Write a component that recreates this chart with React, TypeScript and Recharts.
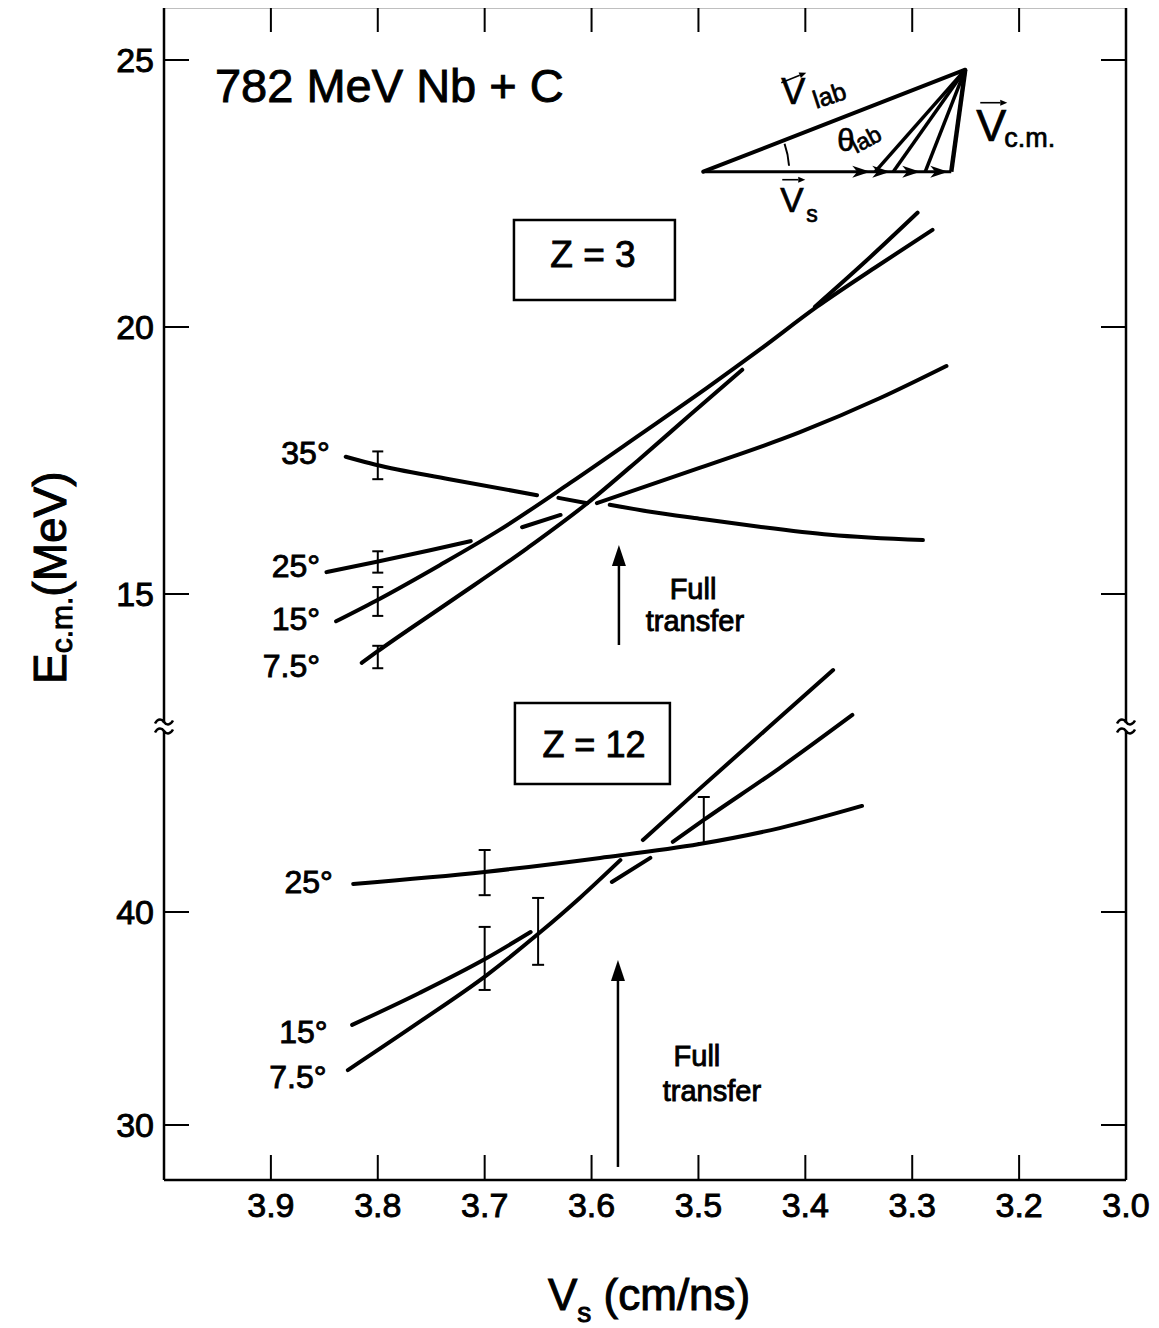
import React from 'react';
import {
  ComposedChart,
  Line,
  Scatter,
  XAxis,
  YAxis,
  ErrorBar,
  ReferenceArea,
  ReferenceDot,
  ReferenceLine,
} from 'recharts';

// ---------------- axis ticks ----------------
const xTickValues = [3.9, 3.8, 3.7, 3.6, 3.5, 3.4, 3.3, 3.2, 3.1];
const xTickLabels = ['3.9', '3.8', '3.7', '3.6', '3.5', '3.4', '3.3', '3.2', '3.0'];
const z3TickValues = [15, 20, 25];
const z12TickValues = [30, 40];

// ---------------- Z = 3 curves (x: Vs cm/ns, y: E c.m. MeV) ----------------
const z3Deg35 = [
  { x: 3.83, y: 17.57 },
  { x: 3.802, y: 17.42 },
  { x: 3.733, y: 17.15 },
  { x: 3.651, y: 16.85 },
  { x: 3.641, y: null },
  { x: 3.631, y: 16.8 },
  { x: 3.604, y: 16.7 },
  { x: 3.594, y: null },
  { x: 3.583, y: 16.67 },
  { x: 3.545, y: 16.54 },
  { x: 3.499, y: 16.41 },
  { x: 3.443, y: 16.26 },
  { x: 3.377, y: 16.11 },
  { x: 3.29, y: 16.01 },
];

const z3Deg25 = [
  { x: 3.848, y: 15.41 },
  { x: 3.802, y: 15.6 },
  { x: 3.751, y: 15.82 },
  { x: 3.713, y: 15.99 },
  { x: 3.69, y: null },
  { x: 3.665, y: 16.25 },
  { x: 3.629, y: 16.48 },
  { x: 3.612, y: null },
  { x: 3.595, y: 16.7 },
  { x: 3.499, y: 17.36 },
  { x: 3.405, y: 18.03 },
  { x: 3.33, y: 18.67 },
  { x: 3.268, y: 19.27 },
];

const z3Deg15 = [
  { x: 3.839, y: 14.49 },
  { x: 3.802, y: 14.87 },
  { x: 3.742, y: 15.54 },
  { x: 3.686, y: 16.2 },
  { x: 3.62, y: 17.08 },
  { x: 3.555, y: 17.98 },
  { x: 3.492, y: 18.86 },
  { x: 3.443, y: 19.57 },
  { x: 3.389, y: 20.38 },
  { x: 3.335, y: 21.11 },
  { x: 3.281, y: 21.82 },
];

const z3Deg7p5 = [
  { x: 3.815, y: 13.71 },
  { x: 3.802, y: 13.9 },
  { x: 3.733, y: 14.85 },
  { x: 3.66, y: 15.86 },
  { x: 3.604, y: 16.7 },
  { x: 3.555, y: 17.53 },
  { x: 3.508, y: 18.35 },
  { x: 3.459, y: 19.2 },
  { x: 3.425, y: null },
  { x: 3.391, y: 20.38 },
  { x: 3.343, y: 21.24 },
  { x: 3.295, y: 22.14 },
];

const z3ErrorBars = [
  { x: 3.8, y: 17.41, err: 0.26 },
  { x: 3.8, y: 15.6, err: 0.2 },
  { x: 3.8, y: 14.86, err: 0.27 },
  { x: 3.8, y: 13.82, err: 0.21 },
];

// ---------------- Z = 12 curves ----------------
const z12Deg25 = [
  { x: 3.823, y: 41.32 },
  { x: 3.7, y: 41.88 },
  { x: 3.592, y: 42.54 },
  { x: 3.499, y: 43.19 },
  { x: 3.424, y: 43.94 },
  { x: 3.347, y: 44.98 },
];

const z12Deg15 = [
  { x: 3.824, y: 34.7 },
  { x: 3.761, y: 36.2 },
  { x: 3.698, y: 37.84 },
  { x: 3.657, y: 39.06 },
  { x: 3.62, y: null },
  { x: 3.581, y: 41.41 },
  { x: 3.545, y: 42.54 },
  { x: 3.535, y: null },
  { x: 3.524, y: 43.29 },
  { x: 3.495, y: 44.32 },
  { x: 3.424, y: 46.76 },
  { x: 3.356, y: 49.25 },
];

const z12Deg7p5 = [
  { x: 3.828, y: 32.58 },
  { x: 3.761, y: 34.84 },
  { x: 3.698, y: 37.04 },
  { x: 3.649, y: 39.01 },
  { x: 3.611, y: 40.66 },
  { x: 3.573, y: 42.44 },
  { x: 3.562, y: null },
  { x: 3.552, y: 43.38 },
  { x: 3.499, y: 45.78 },
  { x: 3.433, y: 48.73 },
  { x: 3.374, y: 51.36 },
];

const z12ErrorBars = [
  { x: 3.7, y: 41.85, err: 1.06 },
  { x: 3.7, y: 37.82, err: 1.48 },
  { x: 3.65, y: 39.09, err: 1.57 },
  { x: 3.495, y: 44.32, err: 1.08 },
];

// ---------------- annotation anchors (data units) ----------------
const z3AngleLabels = [
  { text: '35°', x: 3.845, y: 17.43 },
  { text: '25°', x: 3.854, y: 15.32 },
  { text: '15°', x: 3.854, y: 14.33 },
  { text: '7.5°', x: 3.854, y: 13.45 },
];
const z12AngleLabels = [
  { text: '25°', x: 3.842, y: 40.88 },
  { text: '15°', x: 3.847, y: 33.85 },
  { text: '7.5°', x: 3.848, y: 31.74 },
];

// ---------------- layout ----------------
const W = 1159;
const H = 1328;
// plot area: x 164..1126, y 7..1180 (each axis is 1px thick in layout)
const MARGIN = { top: 6, right: 32, bottom: 147, left: 163 };
const X_DOMAIN = [3.1, 4.0];
const Z3_DOMAIN = [4.0262, 25.9925];
const Z12_DOMAIN = [27.4178, 82.4883];
const FONT = '"Liberation Sans", Arial, Helvetica, sans-serif';
const INK = '#000';
const TICK_LEN = 25;
const LINE_W = 4;
const TXT_STROKE = 0.9;

// ---------------- tick renderers ----------------
const BottomTick = (p: any) => {
  const { x, y, payload } = p;
  const i = xTickValues.indexOf(payload.value);
  const label = i >= 0 ? xTickLabels[i] : String(payload.value);
  const edge = i === xTickValues.length - 1;
  return (
    <g>
      {!edge && <line x1={x} y1={y} x2={x} y2={y - TICK_LEN} stroke={INK} strokeWidth={2} />}
      <text x={x} y={y + 37} textAnchor="middle" fontSize={34} fontFamily={FONT} fill={INK} stroke={INK} strokeWidth={TXT_STROKE}>
        {label}
      </text>
    </g>
  );
};

const TopTick = (p: any) => {
  const { x, y, payload } = p;
  if (payload.value === xTickValues[xTickValues.length - 1]) return <g />;
  return <line x1={x} y1={y} x2={x} y2={y + TICK_LEN} stroke={INK} strokeWidth={2} />;
};

const LeftTick = (p: any) => {
  const { x, y, payload } = p;
  return (
    <g>
      <line x1={x} y1={y} x2={x + TICK_LEN} y2={y} stroke={INK} strokeWidth={2} />
      <text x={x - 10} y={y + 12} textAnchor="end" fontSize={34} fontFamily={FONT} fill={INK} stroke={INK} strokeWidth={TXT_STROKE}>
        {payload.value}
      </text>
    </g>
  );
};

const RightTick = (p: any) => {
  const { x, y } = p;
  return <line x1={x} y1={y} x2={x - TICK_LEN} y2={y} stroke={INK} strokeWidth={2} />;
};

const NoShape = () => <g />;

// ---------------- annotation shapes ----------------
const textShape =
  (text: string, size: number, anchor: string = 'start') =>
  (p: any) =>
    (
      <text
        x={p.cx}
        y={p.cy}
        textAnchor={anchor}
        fontSize={size}
        fontFamily={FONT}
        fill={INK}
        stroke={INK}
        strokeWidth={TXT_STROKE}
      >
        {text}
      </text>
    );

const arrowHeadUp = (p: any) => (
  <polygon points={`${p.cx},${p.cy} ${p.cx - 7},${p.cy + 21} ${p.cx + 7},${p.cy + 21}`} fill={INK} />
);

const breakMark = (p: any) => {
  const { cx, cy } = p;
  const tilde = (yy: number) =>
    `M ${cx - 9} ${yy + 1.5} C ${cx - 6} ${yy - 4}, ${cx - 2} ${yy - 3}, ${cx} ${yy} S ${cx + 6} ${yy + 4}, ${cx + 9} ${yy - 1.5}`;
  return (
    <g>
      <rect x={cx - 4} y={cy - 4} width={8} height={8} fill="#fff" />
      <path d={tilde(cy - 5)} stroke={INK} strokeWidth={2.5} fill="none" />
      <path d={tilde(cy + 4)} stroke={INK} strokeWidth={2.5} fill="none" />
    </g>
  );
};

const overArrow = (x1: number, y1: number, x2: number, y2: number) => {
  const ang = Math.atan2(y2 - y1, x2 - x1);
  const L = 7;
  const w = 3;
  const bx = x2 - L * Math.cos(ang);
  const by = y2 - L * Math.sin(ang);
  const nx = -Math.sin(ang) * w;
  const ny = Math.cos(ang) * w;
  return (
    <g>
      <line x1={x1} y1={y1} x2={bx} y2={by} stroke={INK} strokeWidth={1.6} />
      <polygon points={`${x2},${y2} ${bx + nx},${by + ny} ${bx - nx},${by - ny}`} fill={INK} />
    </g>
  );
};

const vectorDiagram = (p: any) => {
  const { cx, cy } = p;
  const ax = cx + 262;
  const ay = cy - 102;
  const baseEnds = [172, 190, 222, 248];
  const heads = [167, 187, 217, 245];
  const R = 86;
  const a1 = (4 * Math.PI) / 180;
  const a2 = (19 * Math.PI) / 180;
  const head = (t: number) =>
    `${cx + t},${cy} ${cx + t - 18},${cy - 6} ${cx + t - 13},${cy} ${cx + t - 18},${cy + 6}`;
  return (
    <g>
      <line x1={cx} y1={cy} x2={ax} y2={ay} stroke={INK} strokeWidth={4} strokeLinecap="round" />
      <line x1={cx} y1={cy} x2={cx + 248} y2={cy} stroke={INK} strokeWidth={3} />
      {baseEnds.map((b, i) => (
        <line key={i} x1={ax} y1={ay} x2={cx + b} y2={cy} stroke={INK} strokeWidth={i === 3 ? 4.5 : 3.5} />
      ))}
      {heads.map((h, i) => (
        <polygon key={i} points={head(h)} fill={INK} />
      ))}
      <path
        d={`M ${cx + R * Math.cos(a1)} ${cy - R * Math.sin(a1)} A ${R} ${R} 0 0 0 ${cx + R * Math.cos(a2)} ${cy - R * Math.sin(a2)}`}
        stroke={INK}
        strokeWidth={2}
        fill="none"
      />
      <g fontFamily={FONT} fill={INK} stroke={INK} strokeWidth={0.7}>
        {/* V lab */}
        <text x={cx + 78} y={cy - 68} fontSize={36}>V</text>
        <text x={cx + 113} y={cy - 63} fontSize={25} transform={`rotate(-18 ${cx + 113} ${cy - 63})`}>lab</text>
        {/* theta lab */}
        <text x={cx + 134} y={cy - 21} fontSize={31}>θ</text>
        <text x={cx + 153} y={cy - 18} fontSize={23} transform={`rotate(-28 ${cx + 153} ${cy - 18})`}>lab</text>
        {/* V c.m. */}
        <text x={cx + 273} y={cy - 31} fontSize={45}>V</text>
        <text x={cx + 301} y={cy - 25} fontSize={27}>c.m.</text>
        {/* V s */}
        <text x={cx + 77} y={cy + 40} fontSize={35}>V</text>
        <text x={cx + 103} y={cy + 50} fontSize={23}>s</text>
      </g>
      {overArrow(cx + 78, cy - 89, cx + 103, cy - 99)}
      {overArrow(cx + 277, cy - 69, cx + 304, cy - 69)}
      {overArrow(cx + 79, cy + 8, cx + 102, cy + 8)}
    </g>
  );
};

const lineProps = {
  type: 'monotone' as const,
  dataKey: 'y',
  stroke: INK,
  strokeWidth: LINE_W,
  dot: false,
  activeDot: false,
  connectNulls: false,
  isAnimationActive: false,
  strokeLinecap: 'round' as const,
};

const z3Series = [z3Deg35, z3Deg25, z3Deg15, z3Deg7p5];
const z12Series = [z12Deg25, z12Deg15, z12Deg7p5];

const frameLine = { stroke: INK, strokeWidth: 2.5 };

function UpperPanel() {
  return (
    <ComposedChart width={W} height={H} margin={MARGIN}>
      <XAxis
        type="number"
        dataKey="x"
        domain={X_DOMAIN}
        reversed
        allowDataOverflow
        ticks={xTickValues}
        interval={0}
        height={1}
        tickSize={0}
        tickMargin={0}
        tickLine={false}
        axisLine={frameLine}
        tick={BottomTick}
      />
      <XAxis
        xAxisId="top"
        orientation="top"
        type="number"
        dataKey="x"
        domain={X_DOMAIN}
        reversed
        allowDataOverflow
        ticks={xTickValues}
        interval={0}
        height={1}
        tickSize={0}
        tickMargin={0}
        tickLine={false}
        axisLine={frameLine}
        tick={TopTick}
      />
      <YAxis
        type="number"
        dataKey="y"
        domain={Z3_DOMAIN}
        allowDataOverflow
        ticks={z3TickValues}
        interval={0}
        width={1}
        tickSize={0}
        tickMargin={0}
        tickLine={false}
        axisLine={frameLine}
        tick={LeftTick}
      />
      <YAxis
        yAxisId="right"
        orientation="right"
        type="number"
        dataKey="y"
        domain={Z3_DOMAIN}
        allowDataOverflow
        ticks={z3TickValues}
        interval={0}
        width={1}
        tickSize={0}
        tickMargin={0}
        tickLine={false}
        axisLine={frameLine}
        tick={RightTick}
      />

      {z3Series.map((d, i) => (
        <Line key={`z3-${i}`} data={d} {...lineProps} />
      ))}

      <Scatter data={z3ErrorBars} dataKey="y" shape={NoShape} isAnimationActive={false}>
        <ErrorBar dataKey="err" direction="y" width={5.5} stroke={INK} strokeWidth={2} isAnimationActive={false} />
      </Scatter>

      {z3AngleLabels.map((l, i) => (
        <ReferenceDot key={`z3l-${i}`} x={l.x} y={l.y} r={0} shape={textShape(l.text, 32, 'end')} />
      ))}

      {/* title */}
      <ReferenceDot x={3.9523} y={24.219} r={0} shape={textShape('782 MeV Nb + C', 47)} />

      {/* Z = 3 box */}
      <ReferenceArea x1={3.6726} x2={3.522} y1={20.506} y2={22.004} fill="none" fillOpacity={0} stroke={INK} strokeWidth={2.5} />
      <ReferenceDot x={3.5987} y={21.129} r={0} shape={textShape('Z = 3', 37, 'middle')} />

      {/* full transfer arrow */}
      <ReferenceLine
        segment={[
          { x: 3.5744, y: 14.045 },
          { x: 3.5744, y: 15.6 },
        ]}
        stroke={INK}
        strokeWidth={2.5}
      />
      <ReferenceDot x={3.5744} y={15.918} r={0} shape={arrowHeadUp} />
      <ReferenceDot x={3.5051} y={14.91} r={0} shape={textShape('Full', 29, 'middle')} />
      <ReferenceDot x={3.5033} y={14.3} r={0} shape={textShape('transfer', 29, 'middle')} />

      {/* velocity vector diagram */}
      <ReferenceDot x={3.4955} y={22.908} r={0} shape={vectorDiagram} />

      {/* x axis title */}
      <text x={548} y={1310} fontFamily={FONT} fill={INK} stroke={INK} strokeWidth={1} fontSize={44}>
        V
        <tspan fontSize={28} dy={12}>s</tspan>
        <tspan fontSize={44} dy={-12}> (cm/ns)</tspan>
      </text>
    </ComposedChart>
  );
}

function LowerPanel() {
  return (
    <ComposedChart width={W} height={H} margin={MARGIN}>
      <XAxis
        type="number"
        dataKey="x"
        domain={X_DOMAIN}
        reversed
        allowDataOverflow
        height={1}
        tick={false}
        tickLine={false}
        axisLine={false}
      />
      <XAxis
        xAxisId="top"
        orientation="top"
        type="number"
        dataKey="x"
        domain={X_DOMAIN}
        reversed
        allowDataOverflow
        height={1}
        tick={false}
        tickLine={false}
        axisLine={false}
      />
      <YAxis
        type="number"
        dataKey="y"
        domain={Z12_DOMAIN}
        allowDataOverflow
        ticks={z12TickValues}
        interval={0}
        width={1}
        tickSize={0}
        tickMargin={0}
        tickLine={false}
        axisLine={false}
        tick={LeftTick}
      />
      <YAxis
        yAxisId="right"
        orientation="right"
        type="number"
        dataKey="y"
        domain={Z12_DOMAIN}
        allowDataOverflow
        ticks={z12TickValues}
        interval={0}
        width={1}
        tickSize={0}
        tickMargin={0}
        tickLine={false}
        axisLine={false}
        tick={RightTick}
      />

      {z12Series.map((d, i) => (
        <Line key={`z12-${i}`} data={d} {...lineProps} />
      ))}

      <Scatter data={z12ErrorBars} dataKey="y" shape={NoShape} isAnimationActive={false}>
        <ErrorBar dataKey="err" direction="y" width={6} stroke={INK} strokeWidth={2} isAnimationActive={false} />
      </Scatter>

      {z12AngleLabels.map((l, i) => (
        <ReferenceDot key={`z12l-${i}`} x={l.x} y={l.y} r={0} shape={textShape(l.text, 32, 'end')} />
      ))}

      {/* Z = 12 box */}
      <ReferenceArea x1={3.6717} x2={3.5267} y1={46.009} y2={49.812} fill="none" fillOpacity={0} stroke={INK} strokeWidth={2.5} />
      <ReferenceDot x={3.5978} y={47.3} r={0} shape={textShape('Z = 12', 36, 'middle')} />

      {/* full transfer arrow */}
      <ReferenceLine
        segment={[
          { x: 3.5753, y: 28.03 },
          { x: 3.5753, y: 37.0 },
        ]}
        stroke={INK}
        strokeWidth={2.5}
        ifOverflow="visible"
      />
      <ReferenceDot x={3.5753} y={37.75} r={0} shape={arrowHeadUp} />
      <ReferenceDot x={3.5014} y={32.77} r={0} shape={textShape('Full', 29, 'middle')} />
      <ReferenceDot x={3.4874} y={31.12} r={0} shape={textShape('transfer', 29, 'middle')} />

      {/* axis break marks */}
      <ReferenceDot x={4.0} y={48.685} r={0} shape={breakMark} ifOverflow="visible" />
      <ReferenceDot x={3.1} y={48.685} r={0} shape={breakMark} ifOverflow="visible" />

      {/* y axis title */}
      <text transform="translate(66 684) rotate(-90)" fontFamily={FONT} fill={INK} stroke={INK} strokeWidth={1} fontSize={46}>
        E
        <tspan fontSize={30} dy={6}>c.m.</tspan>
        <tspan fontSize={46} dy={-6}>(MeV)</tspan>
      </text>
    </ComposedChart>
  );
}

export default function App() {
  return (
    <div style={{ position: 'relative', width: W, height: H, margin: '-8px 0 0 -8px', background: '#fff' }}>
      <div style={{ position: 'absolute', left: 0, top: 0 }}>
        <UpperPanel />
      </div>
      <div style={{ position: 'absolute', left: 0, top: 0 }}>
        <LowerPanel />
      </div>
    </div>
  );
}
